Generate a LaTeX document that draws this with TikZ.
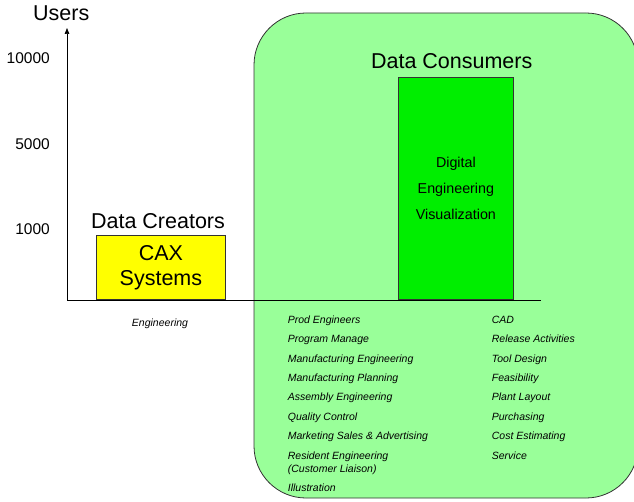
\documentclass[tikz,border=0pt]{standalone}
\usepackage{fontspec}
\setmainfont{Liberation Sans}
\usepackage{xcolor}
\usetikzlibrary{arrows.meta, positioning}
\definecolor{consumerbg}{RGB}{153,255,153}
\definecolor{vizgreen}{RGB}{0,238,0}
\definecolor{caxyellow}{RGB}{255,255,0}

\begin{document}
\begin{tikzpicture}[x=1pt, y=1pt,
  big/.style  = {font=\fontsize{21.5}{25.3}\selectfont},
  tick/.style = {font=\fontsize{15.5}{18}\selectfont, anchor=base east, inner sep=0pt},
  role/.style = {font=\fontsize{10.5}{13}\selectfont\itshape, anchor=base west,
                 align=left, inner sep=0pt},
  bar/.style  = {draw=black!80, line width=0.8pt, anchor=south west, inner sep=0pt,
                 align=center}]
  \useasboundingbox (0,0) rectangle (634,501);
  \clip (0,0) rectangle (634,501);

  % consumer area
  \draw[fill=consumerbg, draw=black!80, line width=0.8pt, rounded corners=52pt]
    (254,3) rectangle (638,488);

  % axes
  \coordinate (origin) at (67,201);
  \coordinate (ytop) at (67,473);
  \coordinate (xend) at (541,201);
  \draw[-{Triangle[length=6pt,width=4.5pt]}, line width=0.7pt] (origin) -- (ytop);
  \draw[line width=0.7pt] (origin) -- (xend);
  \node[big, anchor=base west, inner sep=0pt] (users) at (33,480.3) {Users};
  \node[tick] (t10000) at (50,437.7) {10000};
  \node[tick] (t5000)  at (50,351)   {5000};
  \node[tick] (t1000)  at (50,266)   {1000};

  % bars
  \node[bar, fill=caxyellow, minimum width=129pt, minimum height=64pt, big]
    (cax) at (origin -| 96,0) {CAX\\Systems};
  \node[big, anchor=base] (creators) at (158,272.7) {Data Creators};
  \node[bar, fill=vizgreen, minimum width=115pt, minimum height=221.7pt,
    font=\fontsize{14.3}{26}\selectfont]
    (viz) at (origin -| 398,0) {Digital\\Engineering\\Visualization};
  \node[big, anchor=base] (consumers) at (451.7,432.7) {Data Consumers};

  % user groups
  \node[role, anchor=base] (eng) at (160,175) {Engineering};
  \foreach \y/\txt [count=\i] in {177.7/Prod Engineers, 158.3/Program Manage,
      138.9/Manufacturing Engineering, 119.5/Manufacturing Planning,
      100.1/Assembly Engineering, 80.7/Quality Control,
      61.3/Marketing Sales \& Advertising,
      28.9/Resident Engineering\\(Customer Liaison), 9.3/Illustration}
    \node[role] (left\i) at (287.7,\y) {\txt};
  \foreach \y/\txt [count=\i] in {177.7/CAD, 158.3/Release Activities,
      138.9/Tool Design, 119.5/Feasibility, 100.1/Plant Layout,
      80.7/Purchasing, 61.3/Cost Estimating, 41.9/Service}
    \node[role] (right\i) at (491.7,\y) {\txt};
\end{tikzpicture}
\end{document}
